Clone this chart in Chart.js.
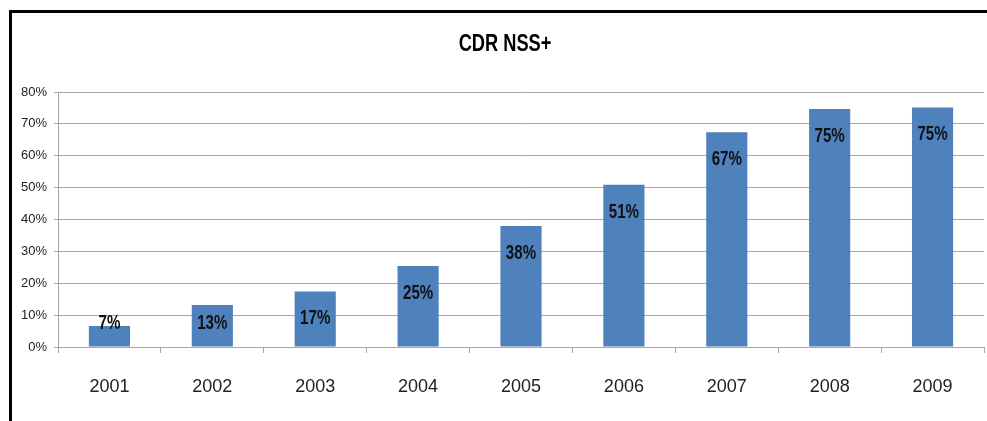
<!DOCTYPE html>
<html>
<head>
<meta charset="utf-8">
<script src="https://cdn.jsdelivr.net/npm/chart.js@4.4.1/dist/chart.umd.min.js"></script>
<style>
  html, body { margin: 0; padding: 0; background: #fff; overflow: hidden; }
  #wrap { position: relative; width: 987px; height: 421px; }
  #frame {
    position: absolute; left: 9px; top: 10px; width: 2000px; height: 2000px;
    border-left: 3px solid #000; border-top: 3px solid #000; pointer-events: none;
  }
</style>
</head>
<body>
<div id="wrap">
  <canvas id="cdrChart" width="987" height="421"></canvas>
  <div id="frame"></div>
</div>
<script>
const years = ['2001', '2002', '2003', '2004', '2005', '2006', '2007', '2008', '2009'];
const cdrValues = [6.6, 13.2, 17.4, 25.4, 38.0, 50.9, 67.4, 74.7, 75.1];
const yTicks = [0, 10, 20, 30, 40, 50, 60, 70, 80];
const chartTitle = 'CDR NSS+';

const FONT = '"Liberation Sans", Arial, sans-serif';
const GRID = '#a6a6a6';

// squeeze text horizontally a bit, the original font is narrow
function narrowText(ctx, text, x, y, sx) {
  ctx.save();
  ctx.translate(x, y);
  ctx.scale(sx, 1);
  ctx.fillText(text, 0, 0);
  ctx.restore();
}

// bar labels, Excel-style inside end
const barLabels = {
  id: 'barLabels',
  afterDatasetsDraw(chart) {
    const { ctx, chartArea } = chart;
    const meta = chart.getDatasetMeta(0);
    ctx.save();
    ctx.font = 'bold 21px ' + FONT;
    ctx.fillStyle = '#111';
    ctx.textAlign = 'center';
    ctx.textBaseline = 'middle';
    meta.data.forEach((bar, i) => {
      const y = Math.min(bar.y + 27, chartArea.bottom - 24);
      narrowText(ctx, Math.round(cdrValues[i]) + '%', bar.x, y, 0.72);
    });
    ctx.restore();
  }
};

const titlePlugin = {
  id: 'titlePlugin',
  afterDraw(chart) {
    const ctx = chart.ctx;
    ctx.save();
    ctx.font = 'bold 24px ' + FONT;
    ctx.fillStyle = '#000';
    ctx.textAlign = 'center';
    ctx.textBaseline = 'middle';
    narrowText(ctx, chartTitle, 505, 44, 0.76);
    ctx.restore();
  }
};

const ctx = document.getElementById('cdrChart').getContext('2d');

new Chart(ctx, {
  type: 'bar',
  data: {
    labels: years,
    datasets: [{
      data: cdrValues,
      backgroundColor: '#4f81bd',
      borderWidth: 0,
      barPercentage: 0.4,
      categoryPercentage: 1.0
    }]
  },
  options: {
    responsive: false,
    animation: false,
    layout: { padding: { top: 92, right: 3, left: 0, bottom: 0 } },
    plugins: {
      legend: { display: false },
      tooltip: { enabled: false },
      title: { display: false }
    },
    scales: {
      x: {
        grid: {
          drawOnChartArea: false,
          drawTicks: true,
          tickLength: 6,
          color: GRID
        },
        border: { color: GRID, width: 1 },
        ticks: {
          color: '#222',
          padding: 23,
          font: { family: FONT, size: 18 }
        },
        afterFit(scale) { scale.height = 74; }
      },
      y: {
        min: 0,
        max: 80,
        afterBuildTicks(scale) {
          scale.ticks = yTicks.map(v => ({ value: v }));
        },
        grid: {
          color: GRID,
          tickLength: 4,
          lineWidth: 1
        },
        border: { color: GRID, width: 1 },
        ticks: {
          color: '#222',
          padding: 7,
          font: { family: FONT, size: 13 },
          callback: v => v + '%'
        },
        afterFit(scale) { scale.width = 58; }
      }
    }
  },
  plugins: [barLabels, titlePlugin]
});
</script>
</body>
</html>
